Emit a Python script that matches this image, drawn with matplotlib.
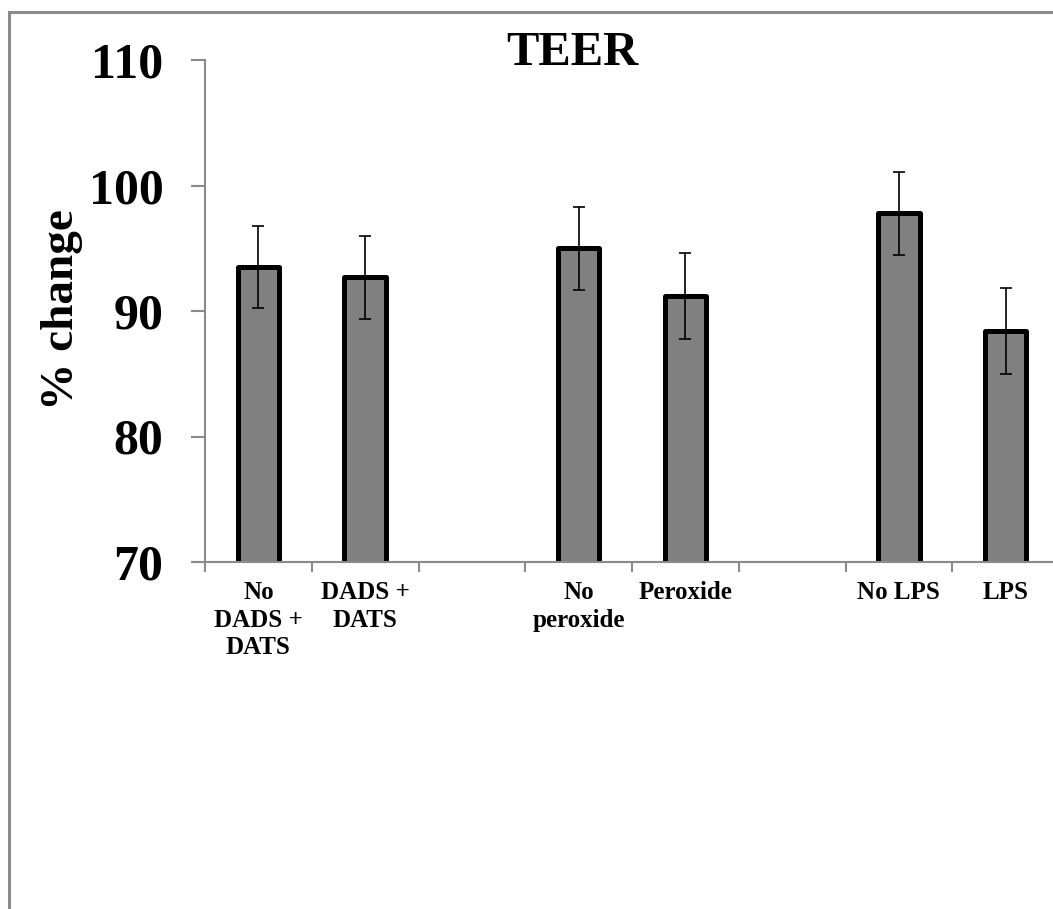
import numpy as np
import matplotlib
matplotlib.use("Agg")
import matplotlib.pyplot as plt
from matplotlib.patches import Rectangle

categories = ["No\nDADS +\nDATS", "DADS +\nDATS", "", "No\nperoxide", "Peroxide", "", "No LPS", "LPS"]
values = [93.5, 92.7, np.nan, 95.0, 91.2, np.nan, 97.8, 88.4]
errors = [3.3, 3.3, np.nan, 3.3, 3.4, np.nan, 3.3, 3.4]
yticks = [70, 80, 90, 100, 110]
title = "TEER"
ylabel = "% change"

plt.rcParams['font.family'] = ['Liberation Serif', 'DejaVu Serif']
SERIF = ['Liberation Serif', 'DejaVu Serif']

W, H = 1053, 909
fig = plt.figure(figsize=(W / 100, H / 100), dpi=100)

# outer chart frame (cropped on the right and bottom)
frame = Rectangle((9 / W, -0.2), 1.2, 1.2 - 12 / H, transform=fig.transFigure,
                  fill=False, edgecolor='#8a8a8a', linewidth=2.2, zorder=0)
fig.patches.append(frame)

left, right = 205 / W, 1059 / W
bottom, top = 1 - 562 / H, 1 - 60 / H
ax = fig.add_axes([left, bottom, right - left, top - bottom])

for s in ['top', 'right']:
    ax.spines[s].set_visible(False)
for s in ['left', 'bottom']:
    ax.spines[s].set_color('#8a8a8a')
    ax.spines[s].set_linewidth(1.5)

idx = np.arange(len(categories))
vals = np.array(values, dtype=float)
errs = np.array(errors, dtype=float)
mask = ~np.isnan(vals)
x = idx[mask] + 0.5

ax.bar(x, vals[mask], width=0.39, color='#808080', edgecolor='black',
       linewidth=3.6, joinstyle='round', zorder=2)
ax.errorbar(x, vals[mask], yerr=errs[mask], fmt='none', ecolor='black',
            elinewidth=1.2, capsize=4.2, capthick=1.2, zorder=3)

ax.set_xlim(0, len(categories))
ax.set_ylim(70, 110)
ax.set_yticks(yticks)
ax.set_yticklabels([str(t) for t in yticks], fontsize=36, fontweight='bold', family=SERIF)
ax.set_xticks(np.arange(len(categories) + 1))
ax.set_xticklabels([])
ax.set_xticks(idx + 0.5, minor=True)
ax.set_xticklabels(categories, minor=True, fontsize=18, fontweight='bold',
                   linespacing=1.25, family=SERIF)
ax.tick_params(axis='x', which='minor', length=0, pad=14)
ax.tick_params(axis='x', which='major', length=7, width=1.5, color='#8a8a8a', direction='out')
ax.tick_params(axis='y', length=10, width=1.5, color='#8a8a8a', direction='out', pad=20)

fig.text(572 / W, 1 - 65 / H, title, ha='center', va='baseline',
         fontsize=35, fontweight='bold', family=SERIF)
fig.text(62 / W, 1 - 310 / H, ylabel, ha='center', va='center', rotation=90,
         fontsize=34, fontweight='bold', family=SERIF)

fig.savefig("out.png", dpi=100)
